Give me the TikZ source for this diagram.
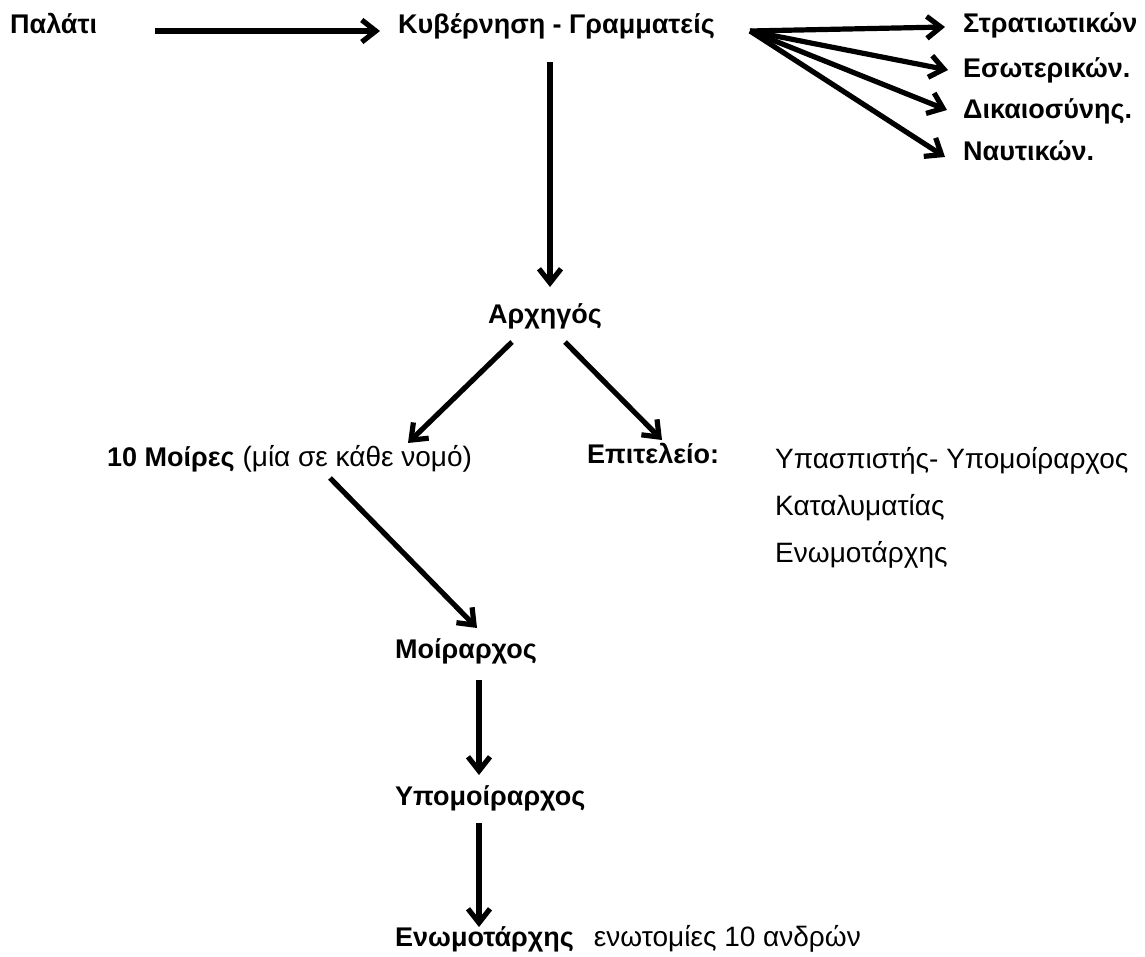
\documentclass[tikz,border=0pt]{standalone}
\usepackage{fontspec}
\setmainfont{Liberation Sans}
\usetikzlibrary{arrows.meta}

\tikzset{
  tx/.style={anchor=west, inner sep=0pt, text height=0.75em, text depth=0.25em, font=\fontsize{28}{32}\selectfont},
  hd/.style={tx, font=\fontsize{27}{31}\selectfont\bfseries},
  arr/.style={-{Straight Barb[length=14pt,width=22pt]}, line width=5.2pt}
}

\begin{document}
\begin{tikzpicture}[x=1pt, y=-1pt]
\useasboundingbox (0,0) rectangle (1145,956);
\node (pal) at (10,31) [hd] {Παλάτι};
\node (kyv) at (398,31) [hd] {Κυβέρνηση - Γραμματείς};
\node (str) at (963,30) [hd] {Στρατιωτικών};
\node (eso) at (963,75) [hd] {Εσωτερικών.};
\node (dik) at (963,116) [hd] {Δικαιοσύνης.};
\node (nav) at (963,158) [hd] {Ναυτικών.};
\node (arx) at (488,321) [hd] {Αρχηγός};
\node (moi) at (107,464) [tx] {{\bfseries\fontsize{27}{31}\selectfont 10 Μοίρες} (μία σε κάθε νομό)};
\node (epi) at (587,461) [hd] {Επιτελείο:};
\node (ypa) at (775,466) [tx] {Υπασπιστής- Υπομοίραρχος};
\node (kat) at (775,513) [tx] {Καταλυματίας};
\node (enw) at (775,560) [tx] {Ενωμοτάρχης};
\node (mra) at (395,656) [hd] {Μοίραρχος};
\node (ypm) at (395,803) [hd] {Υπομοίραρχος};
\node (enm) at (395,944) [tx] {{\bfseries\fontsize{27}{31}\selectfont Ενωμοτάρχης}\hspace{20pt}ενωτομίες 10 ανδρών};
\draw [arr] ([xshift=145pt]pal.west) -- ([xshift=-18pt]kyv.west);
\draw [arr] ([xshift=352pt]kyv.west) -- ([xshift=-18pt,yshift=3pt]str.west);
\draw [arr] ([xshift=352pt]kyv.west) -- ([xshift=-15pt,yshift=5pt]eso.west);
\draw [arr] ([xshift=352pt]kyv.west) -- ([xshift=-16pt,yshift=6pt]dik.west);
\draw [arr] ([xshift=352pt]kyv.west) -- ([xshift=-18pt,yshift=1pt]nav.west);
\draw [arr] ([xshift=152pt,yshift=-31pt]kyv.west) -- ([xshift=62pt,yshift=34pt]arx.west);
\draw [arr] ([xshift=24pt,yshift=-21pt]arx.west) -- ([xshift=301pt,yshift=21pt]moi.west);
\draw [arr] ([xshift=77pt,yshift=-21pt]arx.west) -- ([xshift=75pt,yshift=21pt]epi.west);
\draw [arr] ([xshift=223pt,yshift=-14pt]moi.west) -- ([xshift=82pt,yshift=28pt]mra.west);
\draw [arr] ([xshift=84pt,yshift=-24pt]mra.west) -- ([xshift=84pt,yshift=28pt]ypm.west);
\draw [arr] ([xshift=84pt,yshift=-20pt]ypm.west) -- ([xshift=84pt,yshift=17pt]enm.west);
\end{tikzpicture}
\end{document}
